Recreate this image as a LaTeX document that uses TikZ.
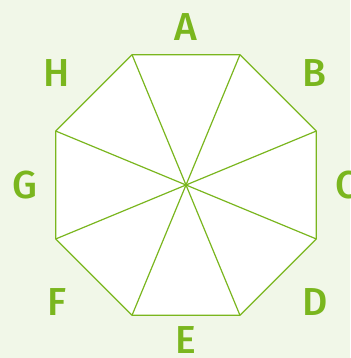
\documentclass[tikz,border=0pt]{standalone}
\usepackage{fontspec}
\setmainfont{Fira Sans}[BoldFont={Fira Sans Medium}]
\usetikzlibrary{calc}
\definecolor{leafgreen}{RGB}{122,182,30}
\definecolor{paleback}{RGB}{241,247,232}
\tikzset{
  edge/.style={leafgreen, line width=1.2pt, line join=round},
  letter/.style={text=leafgreen, inner sep=0pt, font=\bfseries\fontsize{39}{39}\selectfont}
}
\begin{document}
\begin{tikzpicture}[x=1pt, y=1pt]

    % Background
    \fill[paleback] (0,0) rectangle (350,358);
    \useasboundingbox (0,0) rectangle (350,358);

    % Centre and corners
    \coordinate (O) at (186,173);
    \coordinate (pA) at ($(O)+(112.5:141)$);
    \coordinate (pB) at ($(O)+(67.5:141)$);
    \coordinate (pC) at ($(O)+(22.5:141)$);
    \coordinate (pD) at ($(O)+(-22.5:141)$);
    \coordinate (pE) at ($(O)+(-67.5:141)$);
    \coordinate (pF) at ($(O)+(-112.5:141)$);
    \coordinate (pG) at ($(O)+(-157.5:141)$);
    \coordinate (pH) at ($(O)+(157.5:141)$);

    % Octagon
    \filldraw[edge, fill=white] (pA) -- (pB) -- (pC) -- (pD) -- (pE) -- (pF) -- (pG) -- (pH) -- cycle;

    % Spokes
    \draw[edge] (pA) -- (pE);
    \draw[edge] (pB) -- (pF);
    \draw[edge] (pC) -- (pG);
    \draw[edge] (pD) -- (pH);

    % Labels
    \node[letter] (A) at ($(O)+(0,158)$) {A};
    \node[letter] (B) at ($(O)+(128,112)$) {B};
    \node[letter] (C) at ($(O)+(161,0)$) {C};
    \node[letter] (D) at ($(O)+(129,-117)$) {D};
    \node[letter] (E) at ($(O)+(0,-155)$) {E};
    \node[letter] (F) at ($(O)+(-129,-117)$) {F};
    \node[letter] (G) at ($(O)+(-161,0)$) {G};
    \node[letter] (H) at ($(O)+(-129,112)$) {H};

\end{tikzpicture}
\end{document}
